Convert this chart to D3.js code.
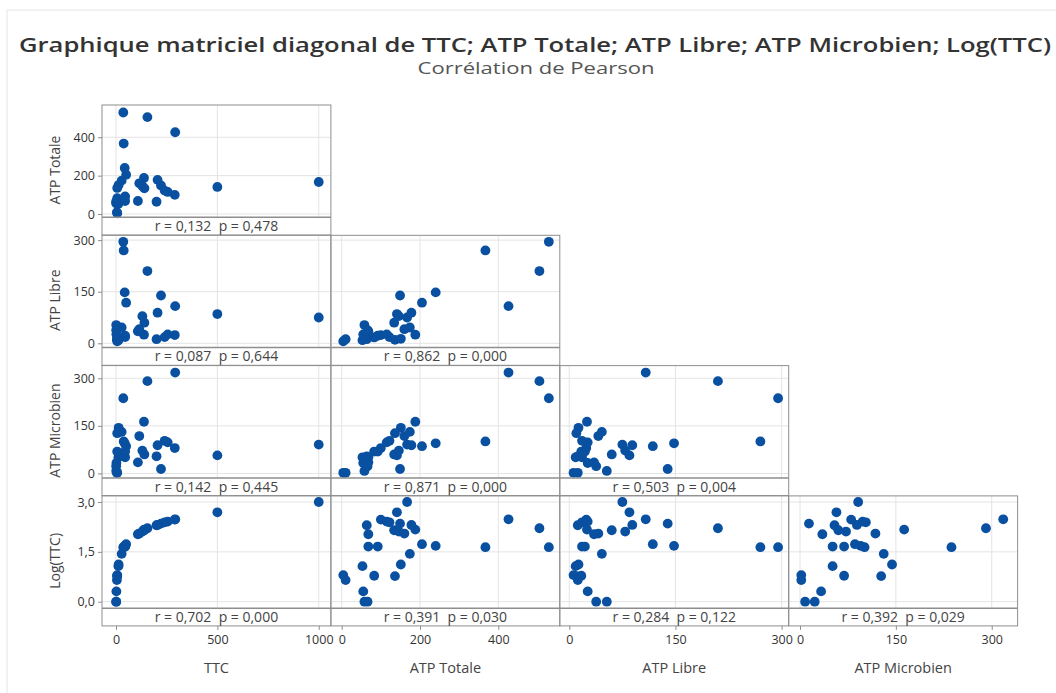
<!DOCTYPE html>
<html>
<head>
<meta charset="utf-8">
<script src="https://cdn.jsdelivr.net/npm/d3@7"></script>
<style>
  body { margin: 0; background: #fff; }
  text { font-family: "Open Sans", "Noto Sans", sans-serif; }
</style>
</head>
<body>
<div class="matrix"></div>
<script>
// one row per sample (31 samples)
const ttc = [36, 155, 292, 38, 43, 50, 500, 1000, 138, 290, 255, 240, 222, 205, 200, 140, 130, 115, 108, 45, 45, 28, 13, 12, 6, 6, 6, 4.5, 2, 1, 1];
const atpTotale = [529, 505, 426, 367, 240, 205, 141, 167, 188, 100, 115, 122, 149, 178, 64, 134, 146, 160, 68, 68, 92, 174, 151, 53, 83, 136, 4, 10, 55, 58, 66];
const atpLibre = [295, 210, 108, 270, 148, 118, 85, 75, 25, 24, 26, 18, 139, 89, 12, 60, 79, 41, 35, 18, 22, 46, 13, 9, 17, 10, 6, 12, 26, 53, 38];
const atpMicrobien = [237, 291, 318, 101, 95, 86, 57, 91, 163, 80, 98, 103, 14, 89, 54, 60, 72, 118, 35, 51, 69, 131, 144, 51, 69, 127, 2, 2, 33, 8, 23];
const logTtc = [1.64, 2.21, 2.48, 1.64, 1.68, 1.73, 2.69, 3.0, 2.17, 2.47, 2.41, 2.39, 2.35, 2.31, 2.30, 2.15, 2.11, 2.05, 2.03, 1.66, 1.66, 1.44, 1.12, 1.07, 0.78, 0.77, 0.80, 0.65, 0.31, 0.0, 0.0];

const varNames = ["TTC", "ATP Totale", "ATP Libre", "ATP Microbien", "Log(TTC)"];
const ttcTicks = [0, 500, 1000];
const totaleTicks = [0, 200, 400];
const libreTicks = [0, 150, 300];
const microTicks = [0, 150, 300];
const logTicks = [0, 1.5, 3];

// Pearson r / p, panel order: row by row, left to right
const rValues = [0.132, 0.087, 0.862, 0.142, 0.871, 0.503, 0.702, 0.391, 0.284, 0.392];
const pValues = [0.478, 0.644, 0.000, 0.445, 0.000, 0.004, 0.000, 0.030, 0.122, 0.029];

const width = 1056, height = 693;
const left0 = 102, top0 = 105;
const colStep = 228.9, panelW = 228.9;
const rowStep = 130.3, dataH = 112.3, stripH = 17.7;

const comma = v => d3.format(".3f")(v).replace(".", ",");
const comma1 = v => d3.format(".1f")(v).replace(".", ",");

const vars = [
    { name: varNames[0], values: ttc, xdom: [-69, 1060], ticks: ttcTicks, fmt: d3.format("d") },
    { name: varNames[1], values: atpTotale, xdom: [-27.6, 557], ydom: [-17, 568], ticks: totaleTicks, fmt: d3.format("d") },
    { name: varNames[2], values: atpLibre, xdom: [-13.4, 310], ydom: [-12.5, 314], ticks: libreTicks, fmt: d3.format("d") },
    { name: varNames[3], values: atpMicrobien, xdom: [-17.7, 340.5], ydom: [-14, 340], ticks: microTicks, fmt: d3.format("d") },
    { name: varNames[4], values: logTtc, ydom: [-0.196, 3.184], ticks: logTicks, fmt: comma1 }
];

const svg = d3.select(".matrix").append("svg")
    .attr("width", width)
    .attr("height", height);

svg.append("rect")
    .attr("x", 7).attr("y", 10)
    .attr("width", width).attr("height", height)
    .attr("fill", "#fff")
    .attr("stroke", "#e6e6e6");

svg.append("text")
    .attr("x", 535).attr("y", 52)
    .attr("text-anchor", "middle")
    .attr("textLength", 1032)
    .attr("lengthAdjust", "spacingAndGlyphs")
    .style("font-size", "20px")
    .style("font-weight", 600)
    .attr("fill", "#333")
    .text("Graphique matriciel diagonal de TTC; ATP Totale; ATP Libre; ATP Microbien; Log(TTC)");

svg.append("text")
    .attr("x", 536).attr("y", 74)
    .attr("text-anchor", "middle")
    .attr("textLength", 237)
    .attr("lengthAdjust", "spacingAndGlyphs")
    .style("font-size", "16px")
    .attr("fill", "#555")
    .text("Corrélation de Pearson");

const xScales = vars.slice(0, 4).map((v, j) => d3.scaleLinear()
    .domain(v.xdom)
    .range([left0 + j * colStep, left0 + j * colStep + panelW]));

const yScales = vars.slice(1).map((v, i) => d3.scaleLinear()
    .domain(v.ydom)
    .range([top0 + i * rowStep + dataH, top0 + i * rowStep]));

let k = 0;
for (let i = 0; i < 4; i++) {
    const yv = vars[i + 1];
    const y = yScales[i];
    const top = top0 + i * rowStep;
    for (let j = 0; j <= i; j++) {
        const xv = vars[j];
        const x = xScales[j];
        const left = left0 + j * colStep;
        const g = svg.append("g").attr("class", "panel");

        // grid
        g.selectAll("line.vgrid")
            .data(xv.ticks)
            .enter().append("line")
            .attr("x1", d => x(d)).attr("x2", d => x(d))
            .attr("y1", top).attr("y2", top + dataH)
            .attr("stroke", "#e4e4e4");
        g.selectAll("line.hgrid")
            .data(yv.ticks)
            .enter().append("line")
            .attr("x1", left).attr("x2", left + panelW)
            .attr("y1", d => y(d)).attr("y2", d => y(d))
            .attr("stroke", "#e4e4e4");

        // points
        g.selectAll("circle")
            .data(d3.range(ttc.length))
            .enter().append("circle")
            .attr("cx", d => x(xv.values[d]))
            .attr("cy", d => y(yv.values[d]))
            .attr("r", 4.9)
            .attr("fill", "#0a50a1");

        // frame + strip
        g.append("rect")
            .attr("x", left).attr("y", top)
            .attr("width", panelW).attr("height", dataH + stripH)
            .attr("fill", "none")
            .attr("stroke", "#8e8e8e");
        g.append("line")
            .attr("x1", left).attr("x2", left + panelW)
            .attr("y1", top + dataH).attr("y2", top + dataH)
            .attr("stroke", "#8e8e8e")
            .attr("stroke-width", 1.5);

        g.append("text")
            .attr("x", left + panelW / 2)
            .attr("y", top + dataH + stripH / 2 + 5)
            .attr("text-anchor", "middle")
            .attr("xml:space", "preserve")
            .style("white-space", "pre")
            .style("font-size", "14px")
            .attr("fill", "#444")
            .text(`r = ${comma(rValues[k])}  p = ${comma(pValues[k])}`);
        k++;
    }

    // left axis for the row
    const ya = svg.append("g")
        .attr("transform", `translate(${left0},0)`)
        .call(d3.axisLeft(y).tickValues(yv.ticks).tickFormat(yv.fmt).tickSize(4).tickPadding(3));
    ya.select(".domain").remove();
    ya.selectAll("line").attr("stroke", "#8e8e8e");
    ya.selectAll("text").style("font-size", "12.5px").attr("fill", "#333");

    svg.append("text")
        .attr("transform", `translate(60,${top + (dataH + stripH) / 2}) rotate(-90)`)
        .attr("text-anchor", "middle")
        .style("font-size", "14px")
        .attr("fill", "#444")
        .text(yv.name);
}

// bottom axes
const bottom = top0 + 3 * rowStep + dataH + stripH;
for (let j = 0; j < 4; j++) {
    const xa = svg.append("g")
        .attr("transform", `translate(0,${bottom})`)
        .call(d3.axisBottom(xScales[j]).tickValues(vars[j].ticks).tickFormat(vars[j].fmt).tickSize(4).tickPadding(5));
    xa.select(".domain").remove();
    xa.selectAll("line").attr("stroke", "#8e8e8e");
    xa.selectAll("text").style("font-size", "12.5px").attr("fill", "#333");

    svg.append("text")
        .attr("x", left0 + j * colStep + panelW / 2)
        .attr("y", 673)
        .attr("text-anchor", "middle")
        .style("font-size", "14.5px")
        .attr("fill", "#444")
        .text(vars[j].name);
}
</script>
</body>
</html>
